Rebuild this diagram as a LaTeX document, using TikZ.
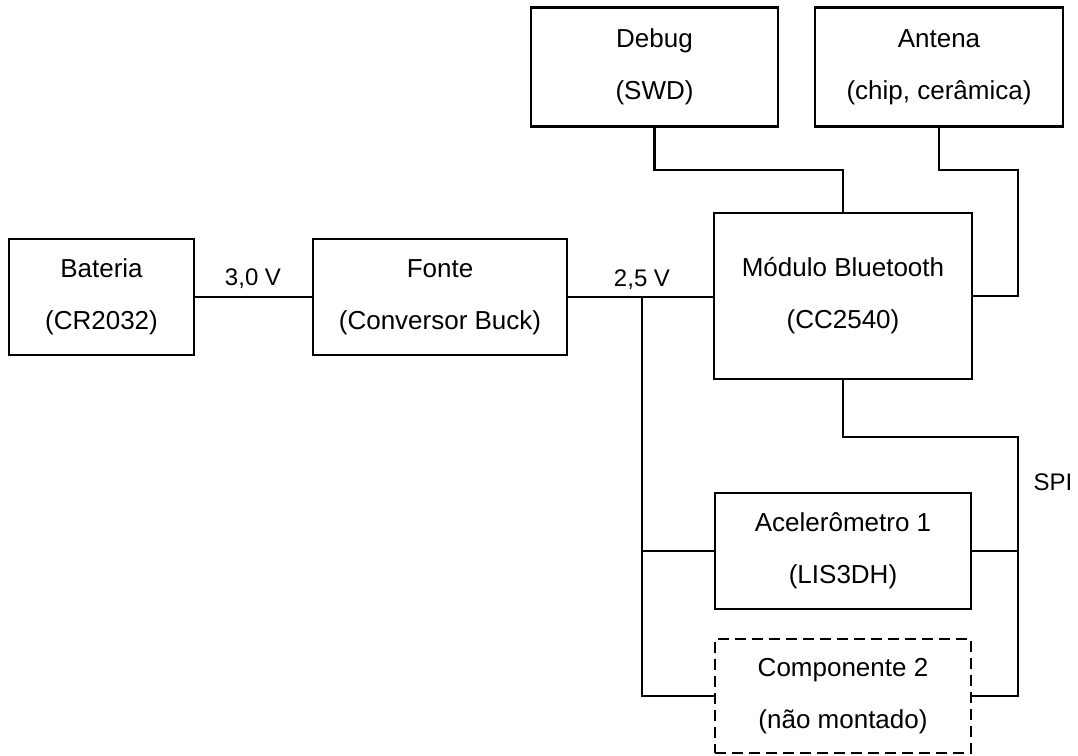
\documentclass[tikz,border=0pt]{standalone}
\usepackage{fontspec}
\setmainfont{Liberation Sans}
\begin{document}
\begin{tikzpicture}[x=1pt,y=-1pt,
  blk/.style={draw, line width=2.8pt, inner sep=0pt, align=center,
    font=\fontsize{26}{52}\selectfont},
  wire/.style={line width=2.8pt},
  lbl/.style={font=\fontsize{24}{28}\selectfont, inner sep=0pt}]
\useasboundingbox (0,0) rectangle (1078,755);
\node[blk, minimum width=185pt, minimum height=116pt] (bat) at (101.5,297) {Bateria\\(CR2032)};
\node[blk, minimum width=254pt, minimum height=116pt] (fonte) at (440,297) {Fonte\\(Conversor Buck)};
\node[blk, minimum width=247pt, minimum height=119pt] (debug) at (654.5,67) {Debug\\(SWD)};
\node[blk, minimum width=248pt, minimum height=119pt] (antena) at (939,67) {Antena\\(chip, cerâmica)};
\node[blk, minimum width=258pt, minimum height=166pt] (mod) at (843,296) {Módulo Bluetooth\\(CC2540)};
\node[blk, minimum width=256pt, minimum height=116pt] (acel) at (843,551) {Acelerômetro 1\\(LIS3DH)};
\node[blk, dash pattern=on 11pt off 6pt, minimum width=256pt, minimum height=114pt] (comp) at (843,696) {Componente 2\\(não montado)};
\coordinate (j1) at (642,297);
\coordinate (dj) at (654.5,170);
\coordinate (ra) at (1018,170);
\coordinate (sb) at (1018,437);
\draw[wire] (bat.east) -- (fonte.west);
\draw[wire] (fonte.east) -- (fonte.east -| mod.west);
\draw[wire] (j1) |- (acel.west);
\draw[wire] (j1) |- (comp.west);
\draw[wire] (debug.south) -- (dj) -| (mod.north);
\draw[wire] (antena.south) |- (ra) |- (mod.east);
\draw[wire] (mod.south) |- (sb) |- (comp.east);
\draw[wire] (acel.east) -- (acel.east -| sb);
\node[lbl] (l30) at (253,279) {3,0 V};
\node[lbl] (l25) at (642,280) {2,5 V};
\node[lbl] (spi) at (1053,482) {SPI};
\end{tikzpicture}
\end{document}
